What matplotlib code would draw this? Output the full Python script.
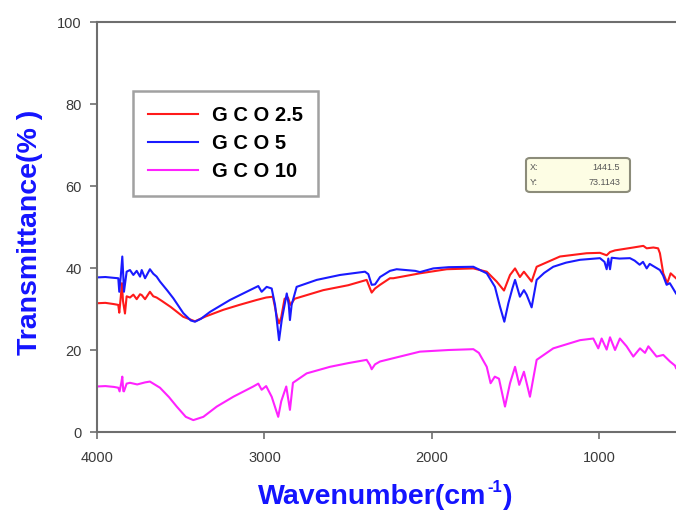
import matplotlib
matplotlib.use("Agg")
import matplotlib.pyplot as plt
from matplotlib.patches import FancyBboxPatch

plt.rcParams['font.family'] = ['Liberation Sans', 'DejaVu Sans']

# FTIR spectra (wavenumber in cm^-1, transmittance in %)
gco25_wn = [4000, 3950, 3900, 3873, 3867, 3858, 3851, 3845, 3833, 3823, 3803, 3783, 3763,
            3743, 3733, 3713, 3684, 3664, 3644, 3614, 3560, 3485, 3415, 3350, 3246, 3150,
            3047, 2990, 2950, 2925, 2913, 2900, 2880, 2860, 2845, 2820, 2649, 2500, 2390,
            2370, 2360, 2340, 2310, 2251, 2231, 2072, 1912, 1753, 1673, 1614, 1570, 1534,
            1504, 1475, 1451, 1405, 1375, 1236, 1077, 997, 957, 937, 907, 798, 738, 718,
            678, 650, 639, 619, 595, 575, 543]
gco25_t = [31.4, 31.5, 31.2, 31.0, 29.1, 33.0, 36.3, 32.0, 28.9, 33.1, 32.8, 33.5, 32.4,
           33.6, 33.4, 32.4, 34.2, 33.1, 32.8, 32.0, 30.5, 28.1, 27.0, 28.2, 29.8, 31.0,
           32.2, 32.8, 33.0, 28.0, 26.5, 28.0, 32.5, 32.8, 31.0, 32.5, 34.6, 35.8, 37.1,
           35.0, 34.0, 35.0, 35.9, 37.5, 37.5, 38.7, 39.7, 39.9, 39.1, 36.7, 34.5, 38.3,
           39.9, 37.8, 39.1, 36.7, 40.3, 42.8, 43.6, 43.7, 43.1, 43.9, 44.3, 45.0, 45.4, 44.8,
           45.0, 44.8, 43.6, 38.7, 36.3, 38.7, 37.5]

gco5_wn = [4000, 3950, 3900, 3873, 3867, 3858, 3849, 3843, 3839, 3823, 3803, 3783, 3763,
           3743, 3733, 3713, 3684, 3664, 3644, 3624, 3580, 3544, 3485, 3440, 3415, 3380,
           3325, 3206, 3087, 3037, 3017, 2987, 2957, 2937, 2913, 2897, 2867, 2855, 2848,
           2838, 2808, 2688, 2549, 2400, 2380, 2360, 2340, 2310, 2251, 2211, 2100, 2072,
           1992, 1900, 1753, 1673, 1624, 1594, 1568, 1544, 1520, 1504, 1475, 1460, 1451,
           1435, 1405, 1375, 1330, 1276, 1200, 1116, 997, 970, 957, 947, 937, 927, 880,
           818, 790, 760, 740, 718, 700, 680, 639, 620, 599, 580, 565, 543]
gco5_t = [37.7, 37.8, 37.6, 37.5, 34.2, 38.0, 42.8, 38.0, 34.2, 39.1, 39.5, 38.3, 39.3,
          37.9, 39.5, 37.5, 39.7, 38.6, 37.9, 36.7, 34.5, 32.6, 29.0, 27.2, 26.9, 27.6,
          29.3, 32.2, 34.6, 35.6, 34.2, 35.4, 35.0, 31.0, 22.4, 27.3, 33.8, 31.0, 27.3,
          31.0, 35.4, 37.1, 38.3, 39.1, 38.5, 35.9, 36.0, 37.8, 39.3, 39.7, 39.3, 39.0,
          39.9, 40.2, 40.3, 38.7, 35.4, 30.6, 26.9, 31.4, 35.0, 37.1, 33.0, 34.0, 34.6,
          33.5, 30.4, 37.1, 38.8, 40.3, 41.3, 42.0, 42.4, 41.5, 39.7, 42.3, 39.7, 42.5, 42.3,
          42.4, 41.8, 40.8, 41.5, 39.9, 41.0, 40.5, 39.5, 38.2, 35.9, 36.3, 35.3, 33.8]

gco10_wn = [4000, 3950, 3900, 3873, 3865, 3855, 3849, 3843, 3839, 3823, 3803, 3760, 3713,
            3684, 3664, 3624, 3570, 3524, 3470, 3425, 3365, 3285, 3186, 3067, 3037, 3017,
            2990, 2957, 2918, 2900, 2870, 2848, 2830, 2748, 2609, 2500, 2390, 2370, 2360,
            2340, 2310, 2191, 2072, 1900, 1753, 1720, 1673, 1650, 1625, 1600, 1564, 1534,
            1504, 1479, 1451, 1415, 1375, 1276, 1116, 1037, 1007, 987, 957, 937, 907, 878,
            838, 798, 758, 728, 708, 659, 619, 579, 549, 543]
gco10_t = [11.1, 11.2, 11.0, 10.8, 9.9, 12.0, 13.5, 10.0, 9.9, 11.8, 12.0, 11.6, 12.1,
           12.3, 11.8, 10.8, 8.5, 6.2, 3.7, 2.9, 3.7, 6.2, 8.6, 11.1, 11.8, 10.3,
           11.2, 8.6, 3.7, 7.5, 11.1, 5.4, 12.0, 14.3, 15.9, 16.8, 17.6, 16.3, 15.3,
           16.5, 17.2, 18.4, 19.6, 20.0, 20.2, 19.3, 15.9, 11.9, 13.5, 13.0, 6.2, 11.9,
           15.9, 11.5, 14.7, 8.6, 17.6, 20.4, 22.4, 22.8, 20.4, 22.8, 20.1, 23.1, 20.0, 22.8,
           20.9, 18.4, 20.4, 19.3, 20.9, 18.4, 18.8, 17.2, 16.2, 15.6]

series_labels = ['G C O 2.5', 'G C O 5', 'G C O 10']
series_colors = ['#ff1a1a', '#1a1aff', '#ff22ff']

x_ticks = [4000, 3000, 2000, 1000]
y_ticks = [0, 20, 40, 60, 80, 100]

W, H = 676, 514
fig = plt.figure(figsize=(W / 100, H / 100), dpi=100)
ax = fig.add_axes([97 / W, (H - 432) / H, (W - 97) / W, 410 / H])

for wn, t, lab, col in zip([gco25_wn, gco5_wn, gco10_wn], [gco25_t, gco5_t, gco10_t],
                           series_labels, series_colors):
    ax.plot(wn, t, color=col, lw=1.5, label=lab, solid_joinstyle='round')

ax.set_xlim(4000, 543)
ax.set_ylim(0, 100)
ax.set_xticks(x_ticks)
ax.set_yticks(y_ticks)
ax.tick_params(direction='out', length=5, width=1.2, color='#6e6e6e',
               labelsize=10.5, labelcolor='#3a3a3a')
ax.tick_params(axis='y', pad=6)
ax.tick_params(axis='x', pad=9)
for side in ['left', 'top', 'bottom']:
    ax.spines[side].set_color('#6e6e6e')
    ax.spines[side].set_linewidth(1.5)
ax.spines['right'].set_visible(False)

label_color = '#1414ff'
fig.text(30 / W, 1 - 232 / H, 'Transmittance(% )', rotation=90, color=label_color,
         fontsize=20.5, fontweight='bold', ha='center', va='center')

# x-axis title assembled piecewise so the superscript uses a plain hyphen
xl_main = fig.text(258 / W, 1 - 497 / H, 'Wavenumber(cm', color=label_color,
                   fontsize=20.5, fontweight='bold', ha='left', va='center')
xl_sup = fig.text(0, 0, '-1', color=label_color, fontsize=12, fontweight='bold')
xl_close = fig.text(0, 1 - 497 / H, ')', color=label_color, fontsize=20.5,
                    fontweight='bold', va='center')
fig.canvas.draw()
r = fig.canvas.get_renderer()
bb = xl_main.get_window_extent(r)
xl_sup.set_position(((bb.x1 + 1) / W, (bb.y1 - 8) / H))
bb2 = xl_sup.get_window_extent(r)
xl_close.set_x((bb2.x1 + 0.5) / W)

leg = ax.legend(loc='upper left', bbox_to_anchor=(133 / W, 1 - 91 / H),
                bbox_transform=fig.transFigure, frameon=True, fancybox=False,
                prop={'weight': 'bold', 'size': 14.5}, handlelength=2.5,
                handletextpad=0.65, labelspacing=0.45, borderpad=0.75, borderaxespad=0)
leg.get_frame().set_edgecolor('#8a8a8a')
leg.get_frame().set_linewidth(1.8)
for line in leg.get_lines():
    line.set_linewidth(1.5)

# cursor readout box
box = FancyBboxPatch((526 / W, 1 - 192 / H), 104 / W, 34 / H,
                     boxstyle='round,pad=0,rounding_size=0.006', transform=fig.transFigure,
                     facecolor='#fdfde4', edgecolor='#8c8c7a', linewidth=1.5)
fig.patches.append(box)
fig.text(530 / W, 1 - 167 / H, 'X:', fontsize=6.5, color='#555555', va='center')
fig.text(530 / W, 1 - 182 / H, 'Y:', fontsize=6.5, color='#555555', va='center')
fig.text(620 / W, 1 - 167 / H, '1441.5', fontsize=6.5, color='#555555', va='center', ha='right')
fig.text(620 / W, 1 - 182 / H, '73.1143', fontsize=6.5, color='#555555', va='center', ha='right')

fig.savefig('out.png', dpi=100)
